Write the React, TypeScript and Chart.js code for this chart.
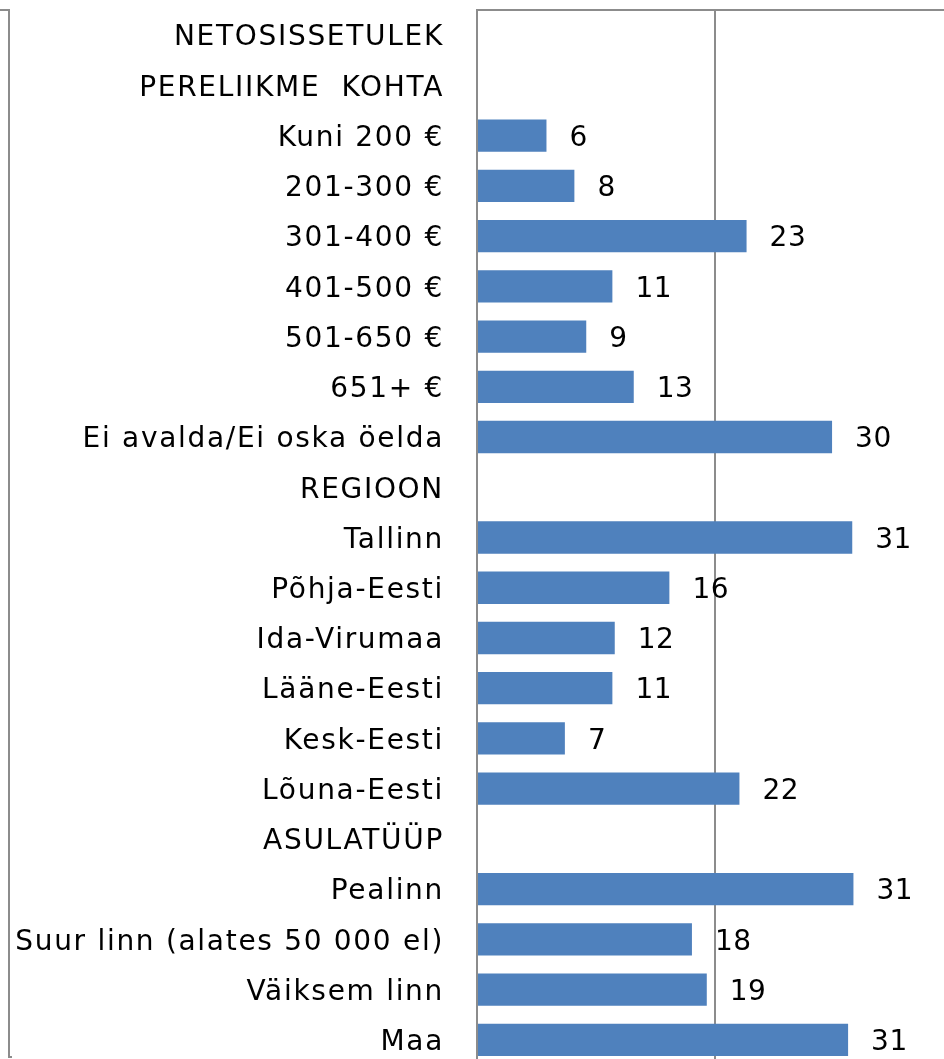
import React, { useEffect, useRef } from "react";
import { Chart, registerables } from "chart.js";

Chart.register(...registerables);

const categories: string[] = [
  "NETOSISSETULEK",
  "PERELIIKME  KOHTA",
  "Kuni 200 €",
  "201-300 €",
  "301-400 €",
  "401-500 €",
  "501-650 €",
  "651+ €",
  "Ei avalda/Ei oska öelda",
  "REGIOON",
  "Tallinn",
  "Põhja-Eesti",
  "Ida-Virumaa",
  "Lääne-Eesti",
  "Kesk-Eesti",
  "Lõuna-Eesti",
  "ASULATÜÜP",
  "Pealinn",
  "Suur linn (alates 50 000 el)",
  "Väiksem linn",
  "Maa",
];

// bar lengths (null = header row)
const values: (number | null)[] = [
  null, null, 5.85, 8.2, 22.7, 11.4, 9.2, 13.2, 29.9,
  null, 31.6, 16.2, 11.6, 11.4, 7.4, 22.1,
  null, 31.7, 18.1, 19.35, 31.25,
];

// printed data labels
const valueLabels: (string | null)[] = [
  null, null, "6", "8", "23", "11", "9", "13", "30",
  null, "31", "16", "12", "11", "7", "22",
  null, "31", "18", "19", "31",
];

const xTicks: number[] = [0, 20, 40];

const FONT = "'DejaVu Sans', Verdana, sans-serif";
const GRID = "#8c8c8c";

const spacingPlugin = {
  id: "spacing",
  beforeDraw(chart: any) {
    chart.ctx.letterSpacing = "1.7px";
  },
  afterDraw(chart: any) {
    chart.ctx.letterSpacing = "0px";
  },
};

const dataLabelPlugin = {
  id: "dataLabels",
  afterDatasetsDraw(chart: any) {
    const ctx = chart.ctx;
    const meta = chart.getDatasetMeta(0);
    ctx.save();
    ctx.letterSpacing = "0.5px";
    ctx.font = `28px ${FONT}`;
    ctx.fillStyle = "#000000";
    ctx.textAlign = "left";
    ctx.textBaseline = "middle";
    meta.data.forEach((el: any, i: number) => {
      const t = valueLabels[i];
      if (t == null || values[i] == null) return;
      ctx.fillText(t, el.x + 23, el.y + 3);
    });
    ctx.restore();
  },
};

const framePlugin = {
  id: "frame",
  afterDraw(chart: any) {
    const ctx = chart.ctx;
    const top = chart.chartArea.top;
    ctx.save();
    ctx.strokeStyle = GRID;
    ctx.lineWidth = 2;
    ctx.beginPath();
    ctx.moveTo(0, top);
    ctx.lineTo(9, top);
    ctx.lineTo(9, 1057);
    ctx.lineTo(12, 1057);
    ctx.stroke();
    ctx.restore();
  },
};

export default function App() {
  const ref = useRef<HTMLCanvasElement | null>(null);

  useEffect(() => {
    if (!ref.current) return;
    const chart = new Chart(ref.current, {
      type: "bar",
      data: {
        labels: categories,
        datasets: [
          {
            data: values as any,
            backgroundColor: "#4F81BD",
            borderWidth: 0,
            barPercentage: 0.643,
            categoryPercentage: 1,
          },
        ],
      },
      options: {
        indexAxis: "y",
        animation: false,
        responsive: false,
        events: [],
        layout: { padding: { top: 10, right: 8, bottom: 1, left: 0 } },
        plugins: {
          legend: { display: false },
          tooltip: { enabled: false },
          title: { display: false },
        },
        scales: {
          x: {
            type: "linear",
            position: "top",
            min: 0,
            max: 40,
            afterBuildTicks: (scale: any) => {
              scale.ticks = xTicks.map((v) => ({ value: v }));
            },
            afterFit: (scale: any) => {
              scale.height = 0;
              scale.paddingLeft = 0;
              scale.paddingRight = 0;
            },
            ticks: { display: false },
            grid: { color: GRID, lineWidth: 2, drawTicks: false },
            border: { display: true, color: GRID, width: 2 },
          },
          y: {
            type: "category",
            afterFit: (scale: any) => {
              scale.width = 477;
              scale.paddingTop = 0;
              scale.paddingBottom = 0;
            },
            ticks: {
              autoSkip: false,
              padding: 33,
              labelOffset: 3,
              color: "#000000",
              font: { family: FONT, size: 28 },
            },
            grid: { display: false, drawTicks: false },
            border: { display: true, color: GRID, width: 2 },
          },
        },
      },
      plugins: [spacingPlugin, dataLabelPlugin, framePlugin],
    });
    return () => chart.destroy();
  }, []);

  return (
    <div
      style={{
        position: "fixed",
        left: 0,
        top: 0,
        width: 944,
        height: 1059,
        overflow: "hidden",
        background: "#ffffff",
      }}
    >
      <canvas ref={ref} width={960} height={1066} style={{ display: "block" }} />
    </div>
  );
}
